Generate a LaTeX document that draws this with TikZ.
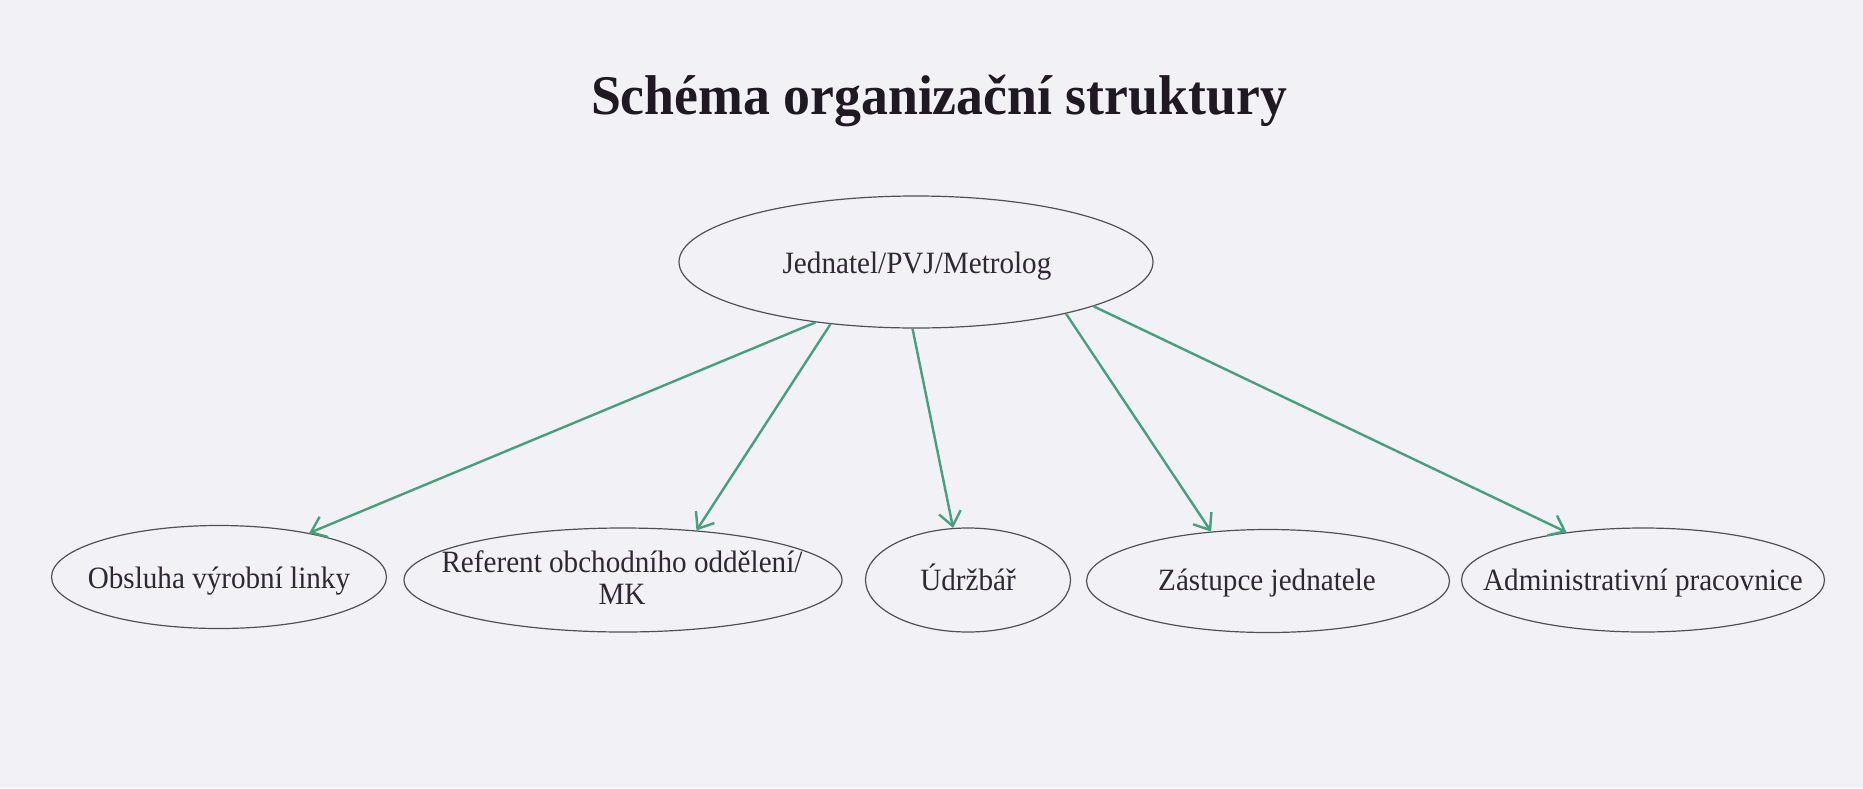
\documentclass[tikz,border=0pt]{standalone}
\usepackage{fontspec}
\setmainfont{Liberation Serif}
\newfontfamily\bodyfont{Liberation Serif}[FakeStretch=0.94]
\newfontfamily\titlefont{Liberation Serif}[FakeStretch=0.96]
\usetikzlibrary{shapes.geometric,arrows.meta}
\definecolor{paper}{RGB}{241,241,246}
\definecolor{inkc}{RGB}{45,40,50}
\definecolor{titlec}{RGB}{30,25,35}
\definecolor{linec}{RGB}{80,80,88}
\definecolor{greenc}{RGB}{70,160,125}
\begin{document}
\begin{tikzpicture}[x=0.5pt,y=-0.5pt,
  oval/.style={draw=linec, line width=0.6pt, ellipse, inner sep=0pt},
  lbl/.style={font=\bodyfont\fontsize{15.5}{16}\selectfont, text=inkc, inner sep=0pt},
  link/.style={draw=greenc, line width=1.2pt, -{Straight Barb[length=7pt,width=11pt]}}
]
\fill[paper] (0,0) rectangle (1863,788);
\useasboundingbox (0,0) rectangle (1863,788);

\node[font=\titlefont\bfseries\fontsize{28}{30}\selectfont, text=titlec, anchor=base, inner sep=0pt] (title) at (939,114) {Schéma organizační struktury};

\node[oval, minimum width=237pt, minimum height=66pt] (top) at (916,262) {};
\node[oval, minimum width=167.5pt, minimum height=51.5pt] (obs) at (219,577) {};
\node[oval, minimum width=219pt, minimum height=52pt] (ref) at (623,580) {};
\node[oval, minimum width=102.5pt, minimum height=52pt] (udr) at (968,580) {};
\node[oval, minimum width=181.5pt, minimum height=51.5pt] (zas) at (1268,581) {};
\node[oval, minimum width=181.5pt, minimum height=52pt] (adm) at (1643,580) {};

\node[lbl, anchor=base] (ttop) at (917,273) {Jednatel/PVJ/Metrolog};
\node[lbl, anchor=base] (tobs) at (219,588) {Obsluha výrobní linky};
\node[lbl, align=center, anchor=center] (tref) at (622,578) {Referent obchodního oddělení/\\MK};
\node[lbl, anchor=base] (tudr) at (968,590) {Údržbář};
\node[lbl, anchor=base] (tzas) at (1267,590) {Zástupce jednatele};
\node[lbl, anchor=base] (tadm) at (1643,590) {Administrativní pracovnice};

\draw[link] (top.211) -- (obs.26);
\draw[link] (top.216.5) -- (ref.34.5);
\draw[link] (top.267.4) -- (udr.106.8);
\draw[link] (top.341.6) -- (zas.139.6);
\draw[link] (top.346.2) -- (adm.148.3);
\end{tikzpicture}
\end{document}
